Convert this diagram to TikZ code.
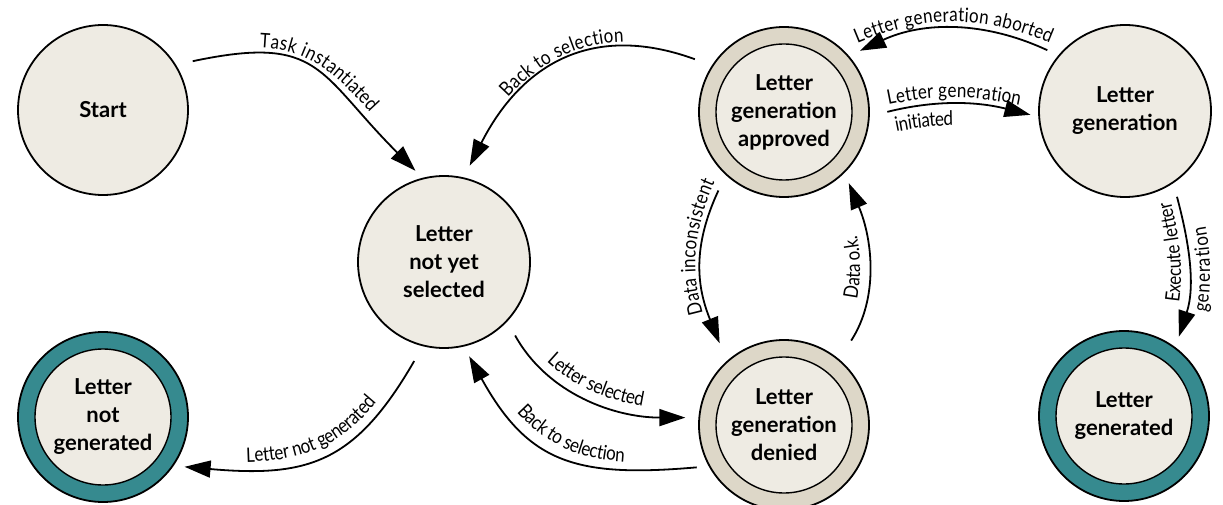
\documentclass[tikz,border=0pt]{standalone}
\usepackage{fontspec}
\usetikzlibrary{arrows.meta,decorations.text}
\newfontfamily\nodefamily{Lato}
\newfontfamily\lblfamily[FakeStretch=0.85]{Lato}
\newcommand\nodefnt{\nodefamily\bfseries\fontsize{22}{28}\selectfont}
\newcommand\lblfnt{\lblfamily\fontsize{20}{22}\selectfont}
\definecolor{stbeige}{HTML}{EEEBE3}
\definecolor{sttan}{HTML}{DDD7C8}
\definecolor{stteal}{HTML}{368A8F}
\begin{document}
\begin{tikzpicture}[x=1pt,y=1pt,
  state/.style={circle, draw=black, line width=1.8pt, minimum size=170pt, inner sep=0pt, outer sep=0pt, fill=stbeige, font=\nodefnt, align=center, text=black},
  ringstate/.style={state, fill=#1},
  innerstate/.style={circle, draw=black, line width=1.4pt, minimum size=136pt, inner sep=0pt, outer sep=0pt, fill=stbeige, font=\nodefnt, align=center, text=black},
  arr/.style={-{Triangle[length=26pt,width=17pt]}, line width=1.8pt},
  lbl/.style={decorate, decoration={text along path, text={|\lblfnt|#1}, text align=center, raise=7pt}},
]
\useasboundingbox (0,0) rectangle (1223,-505);
% states
\node[state] (start) at (103,-110) {Start};
\node[state, minimum size=172pt] (lnys) at (444,-262) {Letter\\not yet\\selected};
\node[ringstate=sttan] (approved) at (784,-112) {};
\node[innerstate] (approvedin) at (approved) {Letter\\generation\\approved};
\node[ringstate=sttan] (denied) at (784,-425) {};
\node[innerstate] (deniedin) at (denied) {Letter\\generation\\denied};
\node[state, minimum size=172pt] (lgen) at (1125,-111) {Letter\\generation};
\node[ringstate=stteal] (lgend) at (1124,-416) {};
\node[innerstate] (lgendin) at (lgend) {Letter\\generated};
\node[ringstate=stteal] (lng) at (103,-417) {};
\node[innerstate] (lngin) at (lng) {Letter\\not\\generated};
% transitions
\draw[arr, shorten <=18pt, shorten >=11pt] (start.32) to[out=12,in=135,looseness=1.4] (lnys.104);
\draw[arr, shorten <=19pt, shorten >=14pt] (approved.147) to[out=160,in=63,looseness=1.2] (lnys.77);
\draw[arr, shorten <=13pt, shorten >=13pt] (lgen.140) to[out=155,in=25] (approved.41);
\draw[arr, shorten <=19pt, shorten >=9pt] (approved.-3) to[out=14,in=166] (lgen.184);
\draw[arr, shorten <=18pt, shorten >=20pt] (approved.227) to[out=245,in=112,looseness=1.1] (denied.132);
\draw[arr, shorten <=23pt, shorten >=12pt] (denied.50) to[out=57,in=-67] (approved.-45);
\draw[arr, shorten <=17pt, shorten >=14pt] (lnys.-43) to[out=-61,in=180] (denied.175);
\draw[arr, shorten <=13pt, shorten >=12pt] (denied.209) to[out=185,in=-61,looseness=1.25] (lnys.-77);
\draw[arr, shorten <=18pt, shorten >=12pt] (lnys.256) to[out=240,in=-5,looseness=1.25] (lng.-35);
\draw[arr, shorten <=15pt, shorten >=12pt] (lgen.-56) to[out=-75,in=72] (lgend.53);
% labels
\path[lbl={Task instantiated}] (start.32) to[out=12,in=135,looseness=1.4] (lnys.104);
\path[lbl={Back to selection}] (lnys.77) to[out=63,in=160,looseness=1.2] (approved.147);
\path[lbl={Letter generation aborted}, decoration={raise=8pt}] (approved.41) to[out=25,in=155] (lgen.140);
\path[lbl={Letter generation}] (approved.-3) to[out=14,in=166] (lgen.184);
\path[lbl={initiated}, decoration={raise=-21pt, text align={left, left indent=24pt}}] (approved.-3) to[out=14,in=166] (lgen.184);
\path[lbl={Data inconsistent}, decoration={text align={right, right indent=12pt}}] (denied.132) to[out=112,in=245,looseness=1.1] (approved.227);
\path[lbl={Data o.k.}] (denied.50) to[out=57,in=-67] (approved.-45);
\path[lbl={Letter selected}] (lnys.-43) to[out=-61,in=180] (denied.175);
\path[lbl={Back to selection}] (lnys.-77) to[out=-61,in=185,looseness=1.25] (denied.209);
\path[lbl={Letter not generated}] (lng.-35) to[out=-5,in=240,looseness=1.25] (lnys.256);
\path[lbl={Execute letter}, decoration={text align={left, left indent=46pt}}] (lgend.53) to[out=72,in=-75] (lgen.-56);
\path[lbl={generation}, decoration={raise=-22pt, text align={left, left indent=40pt}}] (lgend.53) to[out=72,in=-75] (lgen.-56);
\end{tikzpicture}
\end{document}
